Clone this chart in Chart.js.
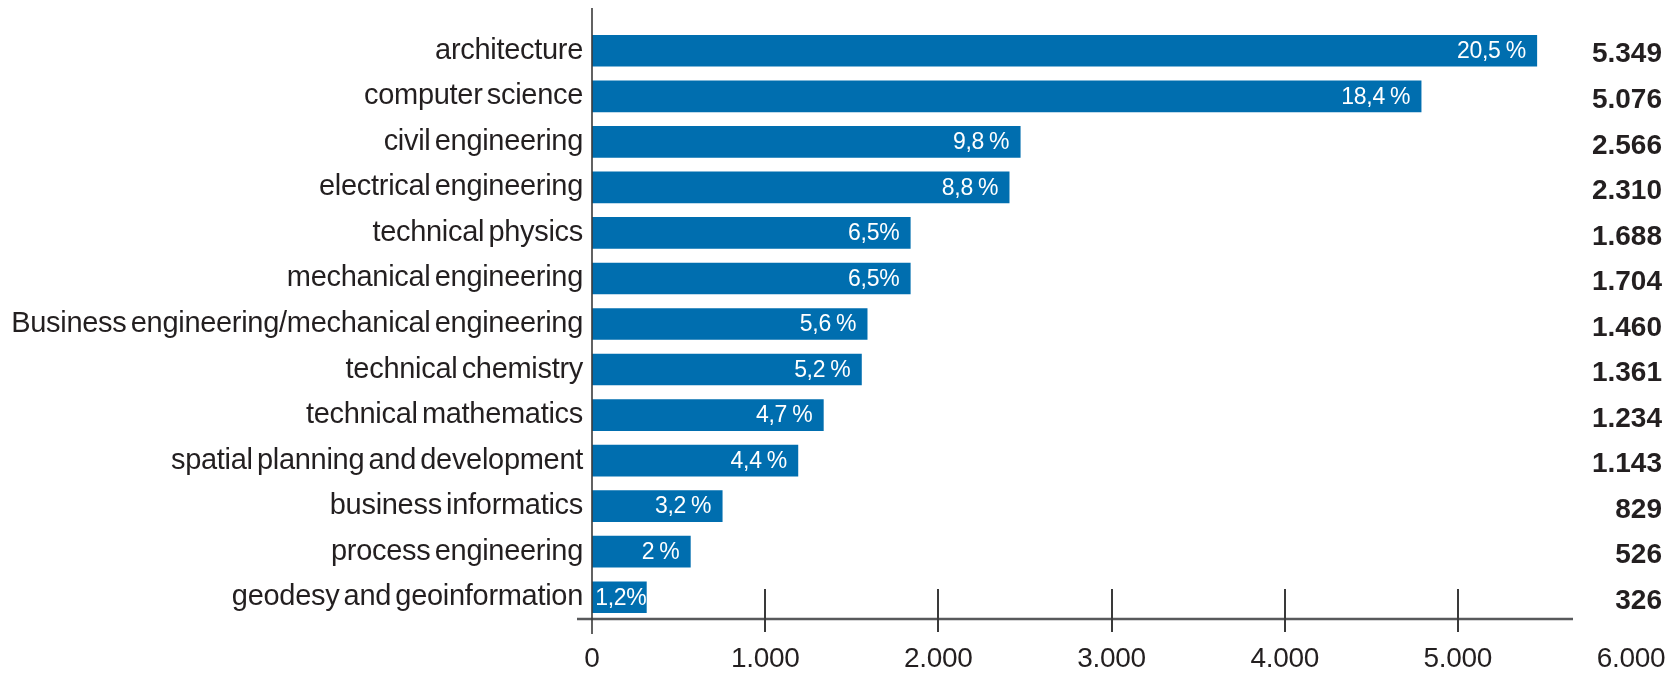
<!DOCTYPE html>
<html><head><meta charset="utf-8">
<script src="https://cdn.jsdelivr.net/npm/chart.js@4/dist/chart.umd.min.js"></script>
<style>html,body{margin:0;padding:0;background:#fff}#wrap{width:1677px;height:673px;position:relative}</style>
</head><body><div id="wrap"><canvas id="c" width="1677" height="673"></canvas></div>
<script>
const categories = ["architecture","computer science","civil engineering","electrical engineering","technical physics","mechanical engineering","Business engineering/mechanical engineering","technical chemistry","technical mathematics","spatial planning and development","business informatics","process engineering","geodesy and geoinformation"];
const barValues = [5456, 4788, 2473, 2409, 1838, 1838, 1589, 1556, 1336, 1189, 752, 568, 314];
const shareLabels = ["20,5 %","18,4 %","9,8 %","8,8 %","6,5%","6,5%","5,6 %","5,2 %","4,7 %","4,4 %","3,2 %","2 %","1,2%"];
const totalLabels = ["5.349","5.076","2.566","2.310","1.688","1.704","1.460","1.361","1.234","1.143","829","526","326"];
const xTickValues = [0,1000,2000,3000,4000,5000,6000];
const xMarkValues = [1000,2000,3000,4000,5000];

const TEXT = '#231f20';
const BLUE = '#006eaf';
const FONT = "'Liberation Sans', Arial, sans-serif";

function fmt(v){ return String(v).replace(/\B(?=(\d{3})+(?!\d))/g,'.'); }

const decor = {
  id:'decor',
  beforeDraw(chart){ chart.ctx.letterSpacing='-0.3px'; chart.ctx.wordSpacing='-3.5px'; },
  afterDatasetsDraw(chart){
    const ctx=chart.ctx, meta=chart.getDatasetMeta(0), a=chart.chartArea;
    ctx.save();
    ctx.letterSpacing='-0.3px'; ctx.wordSpacing='-1px';
    ctx.font="23px "+FONT; ctx.fillStyle='#fff'; ctx.textAlign='right'; ctx.textBaseline='middle';
    meta.data.forEach((b,i)=>{
      const w=ctx.measureText(shareLabels[i]).width;
      let rx=b.x-11;
      if (rx-w < a.left+4) rx=Math.min(b.x, a.left+4+w);
      ctx.fillText(shareLabels[i], rx, b.y+1);
    });
    ctx.letterSpacing='0px'; ctx.wordSpacing='0px';
    ctx.font="bold 28px "+FONT; ctx.fillStyle=TEXT;
    meta.data.forEach((b,i)=>{ ctx.fillText(totalLabels[i], 1662, b.y+4); });
    ctx.restore();
  },
  afterDraw(chart){
    const ctx=chart.ctx, a=chart.chartArea, xs=chart.scales.x;
    ctx.save();
    ctx.strokeStyle='#58595b'; ctx.lineWidth=2.5;
    ctx.beginPath(); ctx.moveTo(577,a.bottom-1); ctx.lineTo(1573,a.bottom-1); ctx.stroke();
    ctx.strokeStyle='#3a3a3a'; ctx.lineWidth=2;
    xMarkValues.forEach(v=>{ const px=Math.round(xs.getPixelForValue(v));
      ctx.beginPath(); ctx.moveTo(px,589); ctx.lineTo(px,632); ctx.stroke(); });
    ctx.lineWidth=1.6;
    ctx.beginPath(); ctx.moveTo(a.left,8); ctx.lineTo(a.left,634); ctx.stroke();
    ctx.restore();
    ctx.letterSpacing='0px'; ctx.wordSpacing='0px';
  }
};

new Chart(document.getElementById('c'), {
  type:'bar',
  data:{ labels:categories, datasets:[{ data:barValues, backgroundColor:BLUE, borderWidth:0, barThickness:31 }]},
  options:{
    indexAxis:'y', responsive:false, animation:false, devicePixelRatio:1,
    layout:{ padding:{ top:28, right:46, bottom:0, left:0 } },
    plugins:{ legend:{display:false}, tooltip:{enabled:false} },
    scales:{
      x:{ min:0, max:6000, afterBuildTicks(s){ s.ticks = xTickValues.map(v=>({value:v})); },
          afterFit(s){ s.height = 53; s.paddingLeft = 0; s.paddingRight = 0; },
          grid:{display:false, drawTicks:false}, border:{display:false},
          ticks:{ maxRotation:0, autoSkip:false, padding:22, color:TEXT, font:{family:FONT, size:28}, callback:(v)=>fmt(v) } },
      y:{ afterFit(s){ s.width = 592; s.paddingTop = 0; s.paddingBottom = 0; },
          grid:{display:false, drawTicks:false}, border:{display:false},
          ticks:{ padding:9, color:TEXT, font:{family:FONT, size:29}, autoSkip:false } }
    }
  },
  plugins:[decor]
});
</script></body></html>
